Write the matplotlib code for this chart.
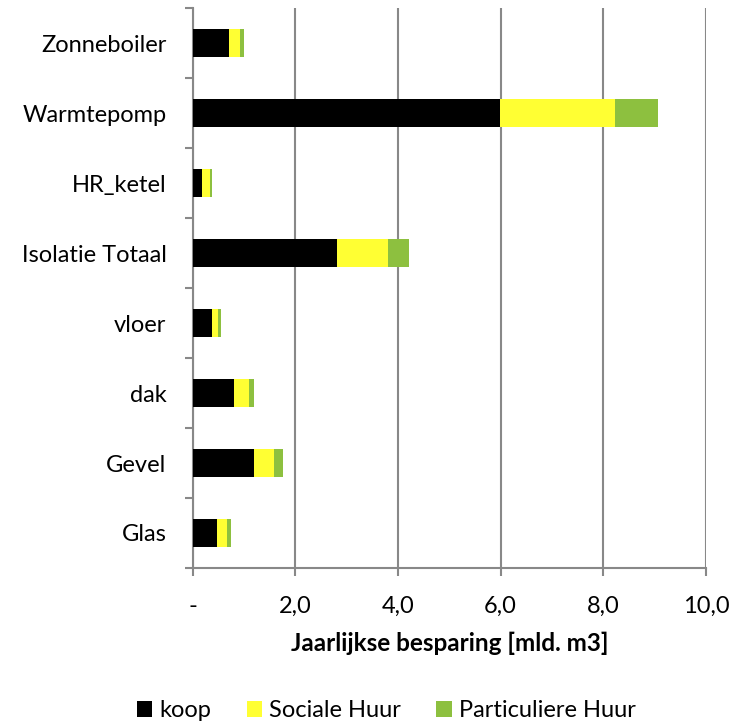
import matplotlib.pyplot as plt
import numpy as np

# categorieën (van onder naar boven)
categorieen = ['Glas', 'Gevel', 'dak', 'vloer', 'Isolatie Totaal', 'HR_ketel', 'Warmtepomp', 'Zonneboiler']

# jaarlijkse besparing per woningtype [mld. m3]
koop = [0.47, 1.19, 0.81, 0.37, 2.82, 0.18, 5.98, 0.70]
sociale_huur = [0.20, 0.39, 0.29, 0.13, 0.99, 0.15, 2.25, 0.23]
particuliere_huur = [0.08, 0.18, 0.10, 0.05, 0.41, 0.05, 0.83, 0.06]

x_ticks = [0, 2, 4, 6, 8, 10]
x_ticklabels = ['-', '2,0', '4,0', '6,0', '8,0', '10,0']

plt.rcParams['font.family'] = ['Lato', 'DejaVu Sans']

fig = plt.figure(figsize=(7.33, 7.25), dpi=100)
ax = fig.add_axes([0.263, 0.2166, 0.700, 0.772])

y = np.arange(len(categorieen))
koop_arr = np.array(koop)
soc_arr = np.array(sociale_huur)
part_arr = np.array(particuliere_huur)

ax.barh(y, koop_arr, height=0.4, color='black', label='koop', zorder=3)
ax.barh(y, soc_arr, left=koop_arr, height=0.4, color='#FFFF33', label='Sociale Huur', zorder=3)
ax.barh(y, part_arr, left=koop_arr + soc_arr, height=0.4, color='#8DC03F',
        label='Particuliere Huur', zorder=3)

ax.set_xlim(0, 10)
ax.set_ylim(-0.5, len(categorieen) - 0.5)
ax.set_xticks(x_ticks)
ax.set_xticklabels(x_ticklabels, fontsize=17)
ax.set_yticks(y)
ax.set_yticklabels(categorieen, fontsize=17)
ax.set_yticks(np.arange(-0.5, len(categorieen)), minor=True)
ax.tick_params(axis='y', which='major', length=0, pad=19)
ax.tick_params(axis='y', which='minor', length=6, color='#888888', width=1.5)
ax.tick_params(axis='x', length=6, color='#888888', width=1.5, pad=14)

ax.grid(axis='x', color='#888888', linewidth=1.5, zorder=0)
for s in ['top', 'right']:
    ax.spines[s].set_visible(False)
for s in ['left', 'bottom']:
    ax.spines[s].set_color('#888888')
    ax.spines[s].set_linewidth(1.5)

ax.set_xlabel('Jaarlijkse besparing [mld. m3]', fontsize=17.5, fontweight='bold', labelpad=11)

fig.legend(loc='lower center', bbox_to_anchor=(0.527, -0.024), ncol=3, frameon=False,
           fontsize=17, handlelength=0.65, handleheight=0.65, handletextpad=0.3,
           columnspacing=1.5)

plt.savefig('out.png', dpi=100)
